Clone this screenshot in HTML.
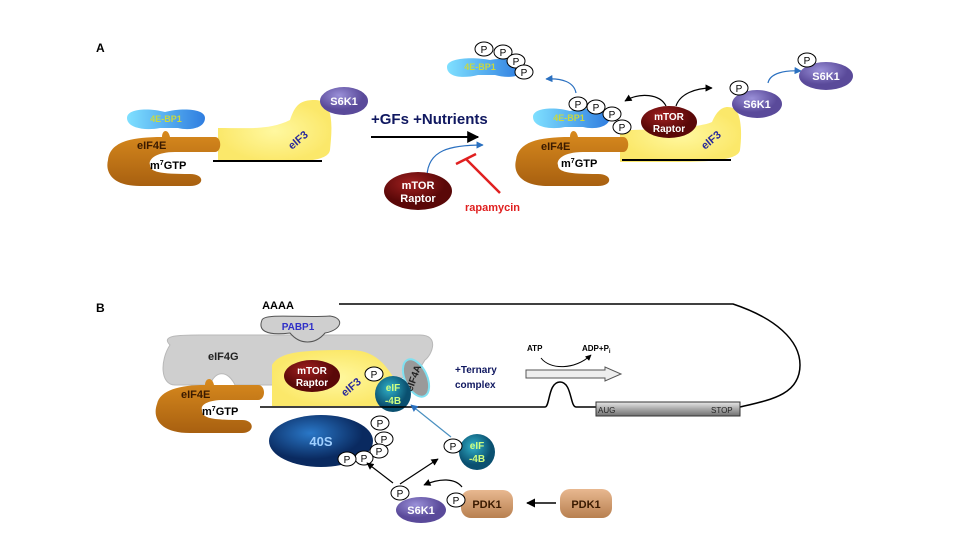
<!DOCTYPE html>
<html><head><style>
body{margin:0;background:#fff}
svg{display:block;font-family:"Liberation Sans",Arial,sans-serif;font-weight:bold}
</style></head><body>
<svg width="960" height="540" viewBox="0 0 960 540" xmlns="http://www.w3.org/2000/svg">
<defs>
<linearGradient id="blue" x1="0" x2="1"><stop offset="0" stop-color="#7fe0ff"/><stop offset="1" stop-color="#2f7de0"/></linearGradient>
<linearGradient id="or" x1="0" y1="0" x2="0" y2="1"><stop offset="0" stop-color="#d88a1e"/><stop offset="1" stop-color="#a86010"/></linearGradient>
<radialGradient id="yel"><stop offset="0" stop-color="#fff8a0"/><stop offset="1" stop-color="#fbe86a"/></radialGradient>
<radialGradient id="pur" cx=".4" cy=".3"><stop offset="0" stop-color="#9a90d8"/><stop offset="1" stop-color="#5a4a9a"/></radialGradient>
<radialGradient id="red" cx=".4" cy=".3"><stop offset="0" stop-color="#a02020"/><stop offset="1" stop-color="#5a0808"/></radialGradient>
<radialGradient id="s40" cx=".4" cy=".35"><stop offset="0" stop-color="#2a78c8"/><stop offset="1" stop-color="#0a2a60"/></radialGradient>
<radialGradient id="teal" cx=".4" cy=".35"><stop offset="0" stop-color="#30b0c8"/><stop offset="1" stop-color="#0a5070"/></radialGradient>
<linearGradient id="tan" x1="0" y1="0" x2="0" y2="1"><stop offset="0" stop-color="#e8b890"/><stop offset="1" stop-color="#b88050"/></linearGradient>
<linearGradient id="box" x1="0" y1="0" x2="0" y2="1"><stop offset="0" stop-color="#e8e8e8"/><stop offset=".5" stop-color="#a8a8a8"/><stop offset="1" stop-color="#707070"/></linearGradient>
<marker id="ab" viewBox="0 0 10 10" refX="9" refY="5" markerWidth="6" markerHeight="6" orient="auto"><path d="M0,0L10,5L0,10z" fill="#000"/></marker>
<marker id="abl" viewBox="0 0 10 10" refX="9" refY="5" markerWidth="6" markerHeight="6" orient="auto"><path d="M0,0L10,5L0,10z" fill="#2a70c0"/></marker>
<g id="P"><ellipse rx="9" ry="7" fill="#fff" stroke="#000" stroke-width="1"/><text y="4" font-size="10" text-anchor="middle" font-weight="normal">P</text></g>
</defs>

<text x="96" y="52" font-size="12">A</text>
<!-- Left A complex -->
<path d="M218,128 C250,128 270,130 290,120 C295,105 300,100 315,100 C335,100 332,130 330,150 C328,162 300,162 260,162 L218,162 Z" fill="url(#yel)"/>
<path d="M127,118 C127,108 150,108 165,112 C180,108 205,108 205,118 C205,128 190,131 178,128 L160,128 C145,131 127,128 127,118 Z" fill="url(#blue)"/>
<text x="166" y="122" font-size="9" fill="#c8d840" text-anchor="middle">4E-BP1</text>
<path d="M162,137 C162,130 168,128 170,137 L215,137 C222,137 222,152 215,152 L175,152 C155,152 148,160 150,165 C150,172 160,174 190,174 C205,174 205,186 190,186 L140,186 C112,186 105,172 108,160 C110,142 130,137 162,137 Z" fill="url(#or)"/>
<text x="137" y="149" font-size="11" fill="#3a1a00">eIF4E</text>
<text x="150" y="169" font-size="11" fill="#000">m<tspan font-size="7" dy="-4">7</tspan><tspan dy="4">GTP</tspan></text>
<line x1="213" y1="161" x2="322" y2="161" stroke="#000" stroke-width="2"/>
<text x="0" y="0" font-size="11" fill="#2a2a9a" transform="translate(292,150) rotate(-40)">eIF3</text>
<ellipse cx="344" cy="101" rx="24" ry="14" fill="url(#pur)"/>
<text x="344" y="105" font-size="11" fill="#fff" text-anchor="middle">S6K1</text>

<text x="371" y="124" font-size="15" fill="#101860">+GFs  +Nutrients</text>
<line x1="371" y1="137" x2="478" y2="137" stroke="#000" stroke-width="2" marker-end="url(#ab)"/>
<path d="M427,176 C428,150 450,145 483,145" fill="none" stroke="#2a70c0" stroke-width="1.2" marker-end="url(#abl)"/>
<ellipse cx="418" cy="191" rx="34" ry="19" fill="url(#red)"/>
<text x="418" y="189" font-size="11" fill="#fff" text-anchor="middle">mTOR</text>
<text x="418" y="202" font-size="11" fill="#fff" text-anchor="middle">Raptor</text>
<line x1="500" y1="193" x2="466" y2="159" stroke="#e02020" stroke-width="2.5"/>
<line x1="456" y1="164" x2="476" y2="154" stroke="#e02020" stroke-width="2.5"/>
<text x="465" y="211" font-size="11" fill="#e02020">rapamycin</text>

<!-- top 4E-BP1 -->
<path d="M447,67 C447,57 475,57 490,60 C505,57 522,60 522,70 C522,78 505,78 495,75 L478,75 C462,79 447,77 447,67 Z" fill="url(#blue)"/>
<text x="480" y="70" font-size="9" fill="#c8d840" text-anchor="middle">4E-BP1</text>
<use href="#P" x="484" y="49"/><use href="#P" x="503" y="52"/><use href="#P" x="516" y="61"/><use href="#P" x="524" y="72"/>
<path d="M576,93 C574,82 562,78 546,79" fill="none" stroke="#2a70c0" stroke-width="1.2" marker-end="url(#abl)"/>

<!-- Right A complex -->
<path d="M620,130 C650,130 700,128 712,122 C718,108 725,105 733,108 C742,112 742,135 740,150 C738,162 700,162 660,162 L620,162 Z" fill="url(#yel)"/>
<path d="M533,117 C533,107 556,107 570,111 C585,107 610,108 610,117 C610,127 595,130 583,127 L565,127 C550,130 533,127 533,117 Z" fill="url(#blue)"/>
<text x="569" y="121" font-size="9" fill="#c8d840" text-anchor="middle">4E-BP1</text>
<use href="#P" x="578" y="104"/><use href="#P" x="596" y="107"/><use href="#P" x="612" y="114"/><use href="#P" x="622" y="127"/>
<path d="M570,137 C570,130 576,128 578,137 L623,137 C630,137 630,152 623,152 L583,152 C563,152 556,160 558,165 C558,172 568,174 598,174 C613,174 613,186 598,186 L548,186 C520,186 513,172 516,160 C518,142 538,137 570,137 Z" fill="url(#or)"/>
<text x="541" y="150" font-size="11" fill="#3a1a00">eIF4E</text>
<text x="561" y="167" font-size="11" fill="#000">m<tspan font-size="7" dy="-4">7</tspan><tspan dy="4">GTP</tspan></text>
<line x1="622" y1="160" x2="731" y2="160" stroke="#000" stroke-width="2"/>
<text x="0" y="0" font-size="11" fill="#2a2a9a" transform="translate(705,150) rotate(-40)">eIF3</text>
<ellipse cx="669" cy="122" rx="28" ry="16" fill="url(#red)"/>
<text x="669" y="120" font-size="10" fill="#fff" text-anchor="middle">mTOR</text>
<text x="669" y="132" font-size="10" fill="#fff" text-anchor="middle">Raptor</text>
<path d="M666,106 C660,94 640,92 625,101" fill="none" stroke="#000" stroke-width="1.2" marker-end="url(#ab)"/>
<path d="M676,106 C680,94 695,88 712,88" fill="none" stroke="#000" stroke-width="1.2" marker-end="url(#ab)"/>
<ellipse cx="757" cy="104" rx="25" ry="14" fill="url(#pur)"/>
<text x="757" y="108" font-size="11" fill="#fff" text-anchor="middle">S6K1</text>
<use href="#P" x="739" y="88"/>
<path d="M768,83 C770,73 785,70 801,71" fill="none" stroke="#2a70c0" stroke-width="1.2" marker-end="url(#abl)"/>
<ellipse cx="826" cy="76" rx="27" ry="14" fill="url(#pur)"/>
<text x="826" y="80" font-size="11" fill="#fff" text-anchor="middle">S6K1</text>
<use href="#P" x="807" y="60"/>

<!-- Panel B -->
<text x="96" y="312" font-size="12">B</text>
<text x="278" y="309" font-size="11" text-anchor="middle">AAAA</text>
<path d="M339,304 L733,304 C775,318 800,340 800,365 C800,395 770,400 740,407" fill="none" stroke="#000" stroke-width="1.5"/>
<path d="M170,345 C160,335 180,335 200,335 L420,335 C440,335 432,355 425,360 L420,368 C400,380 390,385 360,385 L235,385 C228,370 215,370 210,385 L175,385 C160,385 160,360 170,345 Z" fill="#cfcfcf" stroke="#b8b8b8"/>
<path d="M262,320 C265,313 300,318 330,316 C345,318 342,330 325,333 C315,345 300,345 290,333 C265,336 258,330 262,320 Z" fill="#cfcfcf" stroke="#555"/>
<text x="298" y="330" font-size="10" fill="#3030c8" text-anchor="middle">PABP1</text>
<text x="208" y="360" font-size="11" fill="#222">eIF4G</text>
<path d="M272,365 C280,352 300,350 350,350 C375,350 385,365 392,375 C400,390 405,400 385,406 L272,406 Z" fill="url(#yel)"/>
<path d="M205,385 C205,378 212,376 214,385 L258,385 C266,385 266,400 258,400 L223,400 C208,400 200,405 202,410 C202,418 210,420 242,420 C255,420 255,433 242,433 L190,433 C160,433 152,418 157,404 C160,390 180,385 205,385 Z" fill="url(#or)"/>
<text x="181" y="398" font-size="11" fill="#3a1a00">eIF4E</text>
<text x="202" y="415" font-size="11" fill="#000">m<tspan font-size="7" dy="-4">7</tspan><tspan dy="4">GTP</tspan></text>
<ellipse cx="312" cy="376" rx="28" ry="16" fill="url(#red)"/>
<text x="312" y="374" font-size="10" fill="#fff" text-anchor="middle">mTOR</text>
<text x="312" y="386" font-size="10" fill="#fff" text-anchor="middle">Raptor</text>
<text x="0" y="0" font-size="11" fill="#2a2a9a" transform="translate(345,397) rotate(-40)">eIF3</text>
<ellipse cx="416" cy="378" rx="11" ry="20" transform="rotate(-25 416 378)" fill="#9a9a9a" stroke="#80e0f0" stroke-width="2"/>
<text x="0" y="0" font-size="10" fill="#222" transform="translate(412,392) rotate(-70)">eIF4A</text>
<circle cx="393" cy="394" r="18" fill="url(#teal)"/>
<text x="393" y="391" font-size="10" fill="#d0ff80" text-anchor="middle">eIF</text>
<text x="393" y="404" font-size="10" fill="#d0ff80" text-anchor="middle">-4B</text>
<use href="#P" x="374" y="374"/>
<text x="455" y="373" font-size="10" fill="#101860">+Ternary</text>
<text x="455" y="388" font-size="10" fill="#101860">complex</text>
<path d="M260,407 L545,407 C550,407 548,382 560,382 C572,382 570,407 576,407 L596,407" fill="none" stroke="#000" stroke-width="1.5"/>
<rect x="596" y="402" width="144" height="14" fill="url(#box)" stroke="#333"/>
<text x="598" y="413" font-size="8" fill="#222" font-weight="normal">AUG</text>
<text x="711" y="413" font-size="8" fill="#222" font-weight="normal">STOP</text>
<text x="527" y="351" font-size="8">ATP</text>
<text x="582" y="351" font-size="8">ADP+P<tspan font-size="6" dy="2">i</tspan></text>
<path d="M541,358 C550,370 575,370 591,355" fill="none" stroke="#000" stroke-width="1" marker-end="url(#ab)"/>
<path d="M526,370 L605,370 L605,367 L621,374 L605,381 L605,378 L526,378 Z" fill="#eee" stroke="#555"/>
<ellipse cx="321" cy="441" rx="52" ry="26" fill="url(#s40)"/>
<text x="321" y="446" font-size="13" fill="#a0d0ff" text-anchor="middle">40S</text>
<use href="#P" x="380" y="423"/><use href="#P" x="384" y="439"/><use href="#P" x="379" y="451"/><use href="#P" x="364" y="458"/><use href="#P" x="347" y="459"/>
<path d="M451,437 L411,405" stroke="#4a90c0" stroke-width="1.2" marker-end="url(#abl)"/>
<circle cx="477" cy="452" r="18" fill="url(#teal)"/>
<text x="477" y="449" font-size="10" fill="#d0ff80" text-anchor="middle">eIF</text>
<text x="477" y="462" font-size="10" fill="#d0ff80" text-anchor="middle">-4B</text>
<use href="#P" x="453" y="446"/>
<line x1="393" y1="483" x2="367" y2="463" stroke="#000" stroke-width="1.2" marker-end="url(#ab)"/>
<line x1="400" y1="484" x2="438" y2="459" stroke="#000" stroke-width="1.2" marker-end="url(#ab)"/>
<path d="M462,487 C455,478 440,478 424,485" fill="none" stroke="#000" stroke-width="1.2" marker-end="url(#ab)"/>
<rect x="461" y="490" width="52" height="28" rx="10" fill="url(#tan)"/>
<text x="487" y="508" font-size="11" fill="#3a1a00" text-anchor="middle">PDK1</text>
<ellipse cx="421" cy="510" rx="25" ry="13" fill="url(#pur)"/>
<text x="421" y="514" font-size="11" fill="#fff" text-anchor="middle">S6K1</text>
<use href="#P" x="400" y="493"/><use href="#P" x="456" y="500"/>
<line x1="556" y1="503" x2="527" y2="503" stroke="#000" stroke-width="1.5" marker-end="url(#ab)"/>
<rect x="560" y="489" width="52" height="29" rx="10" fill="url(#tan)"/>
<text x="586" y="508" font-size="11" fill="#3a1a00" text-anchor="middle">PDK1</text>
</svg>
</body></html>
